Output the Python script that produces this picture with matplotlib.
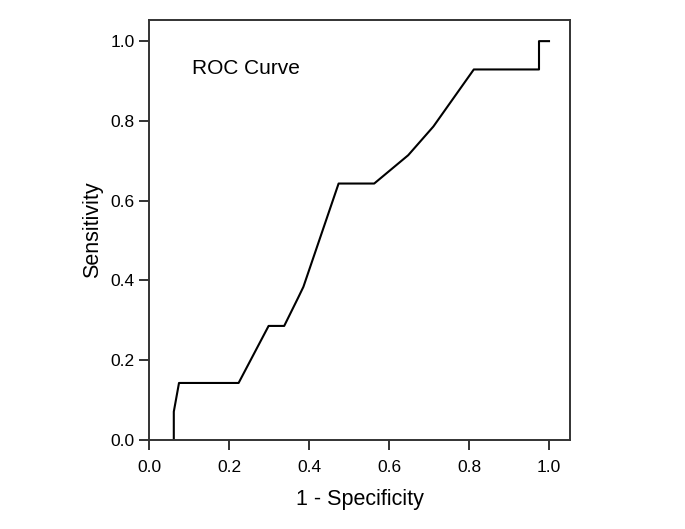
import matplotlib
matplotlib.use("Agg")
import matplotlib.pyplot as plt

# ROC curve points
fpr = [0.062, 0.062, 0.075, 0.224, 0.299, 0.338, 0.373, 0.386, 0.474, 0.563,
       0.648, 0.711, 0.812, 0.975, 0.975, 1.0]
tpr = [0.0, 0.071, 0.143, 0.143, 0.286, 0.286, 0.357, 0.384, 0.643, 0.643,
       0.714, 0.786, 0.929, 0.929, 1.0, 1.0]
ticks = [0.0, 0.2, 0.4, 0.6, 0.8, 1.0]

plt.rcParams['font.family'] = ['Liberation Sans', 'DejaVu Sans']

fig = plt.figure(figsize=(6.85, 5.29), dpi=100)
ax = fig.add_axes([149 / 685, 89 / 529, 421 / 685, 420 / 529])
ax.plot(fpr, tpr, color="black", linewidth=1.5)

ax.set_xlim(0, 1.0525)
ax.set_ylim(0, 1.053)
ax.set_xticks(ticks)
ax.set_yticks(ticks)
ax.set_xticklabels([f"{t:.1f}" for t in ticks])
ax.set_yticklabels([f"{t:.1f}" for t in ticks])
ax.tick_params(direction="out", length=7.5, width=1.4, colors="#333333",
               labelcolor="black", labelsize=12.5)
ax.tick_params(axis="x", pad=7)
ax.tick_params(axis="y", pad=3)
for s in ax.spines.values():
    s.set_linewidth(1.4)
    s.set_color("#333333")

ax.set_xlabel("1 - Specificity", fontsize=15.5, labelpad=10)
ax.set_ylabel("Sensitivity", fontsize=15.5, labelpad=5)
ax.text(0.107, 0.932, "ROC Curve", fontsize=15, va="center", ha="left")

fig.savefig("out.png", dpi=100)
